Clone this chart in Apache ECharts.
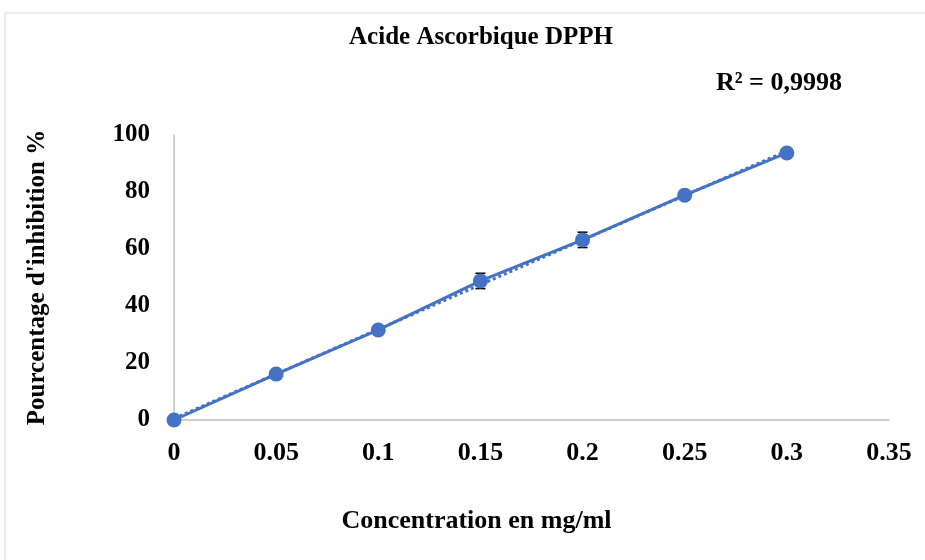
<!DOCTYPE html>
<html>
<head>
<meta charset="utf-8">
<script src="https://cdn.jsdelivr.net/npm/echarts@6/dist/echarts.min.js"></script>
<style>
    html, body {margin: 0; padding: 0; background: #fff;}
    #szChart {width: 925px; height: 560px;}
</style>
</head>
<body>
<div id="szChart"></div>
<script>
    var concentrations = [0, 0.05, 0.1, 0.15, 0.2, 0.25, 0.3];
    var inhibition = [0, 16.1, 31.6, 48.8, 63.2, 78.9, 93.7];
    var errors = [0.4, 0.6, 0.8, 2.7, 2.7, 0.6, 0.5];
    var xTicks = [0, 0.05, 0.1, 0.15, 0.2, 0.25, 0.3, 0.35];
    var r2Text = 'R² = 0,9998';

    /*droite de tendance linéaire (moindres carrés)*/
    function linearFit(xs, ys) {
        var n = xs.length, mx = 0, my = 0;
        for (var i = 0; i < n; i++) { mx += xs[i]; my += ys[i]; }
        mx /= n; my /= n;
        var sxy = 0, sxx = 0;
        for (var i = 0; i < n; i++) {
            sxy += (xs[i] - mx) * (ys[i] - my);
            sxx += (xs[i] - mx) * (xs[i] - mx);
        }
        var a = sxy / sxx;
        return {a: a, b: my - a * mx};
    }
    var fit = linearFit(concentrations, inhibition);
    var xFirst = concentrations[0], xLast = concentrations[concentrations.length - 1];
    var trend = [[xFirst, fit.a * xFirst + fit.b], [xLast, fit.a * xLast + fit.b]];

    var points = [];
    var errData = [];
    for (var i = 0; i < concentrations.length; i++) {
        points.push([concentrations[i], inhibition[i]]);
        errData.push([concentrations[i], inhibition[i] - errors[i], inhibition[i] + errors[i]]);
    }

    var font = '"Liberation Serif", "Times New Roman", serif';
    var blue = '#4472C4';

    var option = {
        animation: false,
        title: {
            text: 'Acide Ascorbique DPPH',
            left: 476, top: 20, textAlign: 'center',
            textStyle: {fontFamily: font, fontSize: 25, fontWeight: 'bold', color: '#000'}
        },
        graphic: [{
            type: 'rect', shape: {x: 5, y: 13, width: 940, height: 560},
            style: {fill: 'none', stroke: '#d9d9d9', lineWidth: 1}, silent: true
        }, {
            type: 'text', left: 716, top: 70,
            style: {text: r2Text, fontFamily: font, fontSize: 26, fontWeight: 'bold', fill: '#000'}
        }],
        grid: {left: 174, right: 36, top: 135, bottom: 140},
        xAxis: {
            type: 'value', min: 0, max: 0.35, interval: 0.05,
            name: 'Concentration en mg/ml', nameLocation: 'middle', nameGap: 88,
            nameTextStyle: {fontFamily: font, fontSize: 26, fontWeight: 'bold', color: '#000', padding: [0, 110, 0, 0]},
            axisLine: {show: true, lineStyle: {color: '#bfbfbf', width: 1.5}},
            axisTick: {show: false},
            splitLine: {show: false},
            axisLabel: {
                margin: 20, fontFamily: font, fontSize: 26, fontWeight: 'bold', color: '#000',
                formatter: function (v) {
                    for (var i = 0; i < xTicks.length; i++) {
                        if (Math.abs(xTicks[i] - v) < 1e-9) return String(xTicks[i]);
                    }
                    return '';
                }
            }
        },
        yAxis: {
            type: 'value', min: 0, max: 100, interval: 20,
            name: "Pourcentage d'inhibition %", nameLocation: 'middle', nameGap: 124,
            nameTextStyle: {fontFamily: font, fontSize: 25, fontWeight: 'bold', color: '#000'},
            axisLine: {show: true, lineStyle: {color: '#bfbfbf', width: 1.5}},
            axisTick: {show: false},
            splitLine: {show: false},
            axisLabel: {margin: 24, fontFamily: font, fontSize: 25, fontWeight: 'bold', color: '#000'}
        },
        series: [{
            name: 'erreur',
            type: 'custom',
            data: errData,
            z: 1,
            renderItem: function (params, api) {
                var x = api.value(0);
                var lo = api.coord([x, api.value(1)]);
                var hi = api.coord([x, api.value(2)]);
                var w = 5;
                var st = {stroke: '#000', lineWidth: 1.5};
                return {
                    type: 'group',
                    children: [
                        {type: 'line', shape: {x1: lo[0], y1: lo[1], x2: hi[0], y2: hi[1]}, style: st},
                        {type: 'line', shape: {x1: lo[0] - w, y1: lo[1], x2: lo[0] + w, y2: lo[1]}, style: st},
                        {type: 'line', shape: {x1: hi[0] - w, y1: hi[1], x2: hi[0] + w, y2: hi[1]}, style: st}
                    ]
                };
            }
        }, {
            name: 'tendance',
            type: 'line',
            data: trend,
            showSymbol: false,
            lineStyle: {color: blue, width: 3, type: 'dotted'},
            z: 2
        }, {
            name: 'inhibition',
            type: 'line',
            data: points,
            symbol: 'circle',
            symbolSize: 15,
            itemStyle: {color: blue},
            lineStyle: {color: blue, width: 3},
            z: 3
        }]
    };
    var szChart = echarts.init(document.getElementById('szChart'));
    szChart.setOption(option);
</script>
</body>
</html>
